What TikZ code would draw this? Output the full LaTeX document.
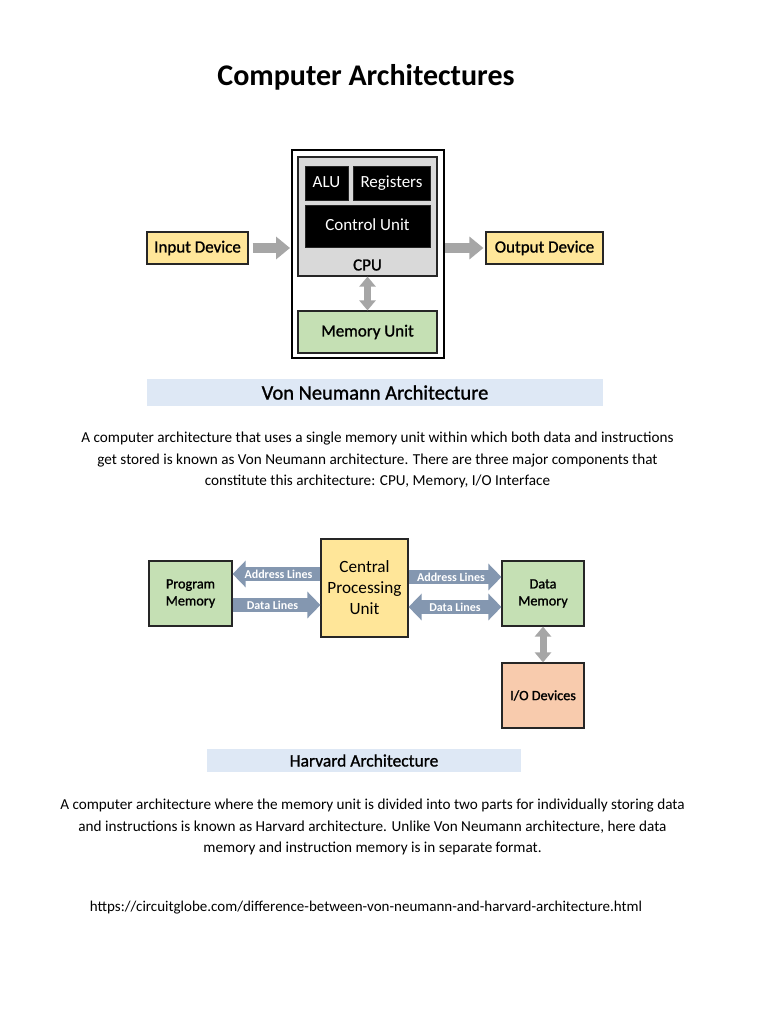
\documentclass[tikz,border=0pt]{standalone}
\usepackage{fontspec}
\setmainfont{Carlito}
\newfontface\semib[FakeBold=1.2]{Carlito}
\usetikzlibrary{arrows.meta}
\definecolor{ygold}{HTML}{FFE699}
\definecolor{mgreen}{HTML}{C5E0B4}
\definecolor{iopeach}{HTML}{F8CBAD}
\definecolor{cpugray}{HTML}{D9D9D9}
\definecolor{bandblue}{HTML}{DEE8F5}
\definecolor{arrgray}{HTML}{A6A6A6}
\definecolor{slate}{HTML}{8497B0}
\definecolor{edge}{HTML}{262626}
\tikzset{
  box/.style={draw=edge, line width=1.2pt, inner sep=0pt, align=center, text=black},
  vnfont/.style={font=\semib\fontsize{17}{19}\selectfont},
  hfont/.style={font=\semib\fontsize{14.2}{17}\selectfont},
  blk/.style={fill=black, draw=edge, line width=0.8pt, inner sep=0pt, text=white, font=\fontsize{17}{19}\selectfont, text height=11.5pt, text depth=3pt},
  band/.style={fill=bandblue, inner sep=0pt},
  garrow/.style={draw=arrgray, line width=10pt, -{Triangle[width=22pt,length=14pt]}},
  gdarrow/.style={draw=arrgray, line width=7pt, {Triangle[width=16pt,length=10pt]}-{Triangle[width=16pt,length=10pt]}},
  harrow/.style={draw=slate, line width=14pt, -{Triangle[width=26pt,length=13pt]}},
  hdarrow/.style={draw=slate, line width=14pt, {Triangle[width=26pt,length=13pt]}-{Triangle[width=26pt,length=13pt]}},
  hlab/.style={text=white, font=\bfseries\fontsize{12}{14}\selectfont, inner sep=0pt},
  para/.style={align=center, font=\fontsize{15.2}{21.8}\selectfont, inner sep=0pt}
}
\begin{document}
\begin{tikzpicture}[x=1pt,y=-1pt]
\useasboundingbox[fill=white] (0,0) rectangle (768,1024);
% title
\node[font=\bfseries\fontsize{30}{33}\selectfont] (title) at (366,77) {Computer Architectures};
% Von Neumann
\node[draw=black, line width=2pt, minimum width=152pt, minimum height=208pt] (outer) at (368,254) {};
\node[box, fill=cpugray, minimum width=139pt, minimum height=119pt] (cpubox) at (367.5,216.5) {};
\node[blk, minimum width=43pt, minimum height=34pt] (alu) at (326.5,183) {ALU};
\node[blk, minimum width=77pt, minimum height=34pt] (reg) at (391.5,183) {Registers};
\node[blk, minimum width=125pt, minimum height=42pt] (cu) at (367.5,226) {Control Unit};
\node[vnfont, inner sep=0pt] (cpulab) at (367.5,265) {CPU};
\node[box, fill=mgreen, minimum width=139pt, minimum height=42pt, vnfont] (mem) at (367.5,332) {Memory Unit};
\node[box, fill=ygold, minimum width=101pt, minimum height=32pt, vnfont] (in) at (197.5,248) {Input Device};
\node[box, fill=ygold, minimum width=117pt, minimum height=32pt, vnfont] (out) at (544.5,248) {Output Device};
\draw[garrow, shorten <=4pt, shorten >=1pt] (in.east) -- (outer.west |- in.east);
\draw[garrow, shorten >=2pt] (outer.east |- out.west) -- (out.west);
\draw[gdarrow] (cpubox.south) -- (mem.north);
\node[band, minimum width=456pt, minimum height=27pt, font=\semib\fontsize{20.5}{23}\selectfont] (vnband) at (375,392.5) {Von Neumann Architecture};
\node[para] (p1) at (377.5,460) {A computer architecture that uses a single memory unit within which both data and instructions\\get stored is known as Von Neumann architecture. There are three major components that\\constitute this architecture: CPU, Memory, I/O Interface};
% Harvard
\node[box, fill=mgreen, minimum width=83pt, minimum height=65pt, hfont] (pm) at (190.5,593.5) {Program\\Memory};
\node[box, fill=ygold, minimum width=87pt, minimum height=98pt, font=\fontsize{17.2}{21}\selectfont] (hcpu) at (364.5,588) {Central\\Processing\\Unit};
\node[box, fill=mgreen, minimum width=82pt, minimum height=65pt, hfont] (dm) at (543,593.5) {Data\\Memory};
\node[box, fill=iopeach, minimum width=82pt, minimum height=65pt, hfont] (io) at (543,695.5) {I/O Devices};
\draw[harrow] (hcpu.west |- 0,574) -- (pm.east |- 0,574) node[hlab, midway, xshift=2pt] {Address Lines};
\draw[harrow] (pm.east |- 0,605) -- (hcpu.west |- 0,605) node[hlab, midway, xshift=-4pt] {Data Lines};
\draw[harrow] (hcpu.east |- 0,577) -- (dm.west |- 0,577) node[hlab, midway, xshift=-4pt] {Address Lines};
\draw[hdarrow] (hcpu.east |- 0,607) -- (dm.west |- 0,607) node[hlab, midway] {Data Lines};
\draw[gdarrow] (dm.south) -- (io.north);
\node[band, minimum width=314pt, minimum height=23pt, font=\semib\fontsize{17.5}{20}\selectfont] (hband) at (364,760.5) {Harvard Architecture};
\node[para] (p2) at (372.5,827) {A computer architecture where the memory unit is divided into two parts for individually storing data\\and instructions is known as Harvard architecture. Unlike Von Neumann architecture, here data\\memory and instruction memory is in separate format.};
\node[font=\fontsize{15}{17}\selectfont, inner sep=0pt] (url) at (366,908) {https://circuitglobe.com/difference-between-von-neumann-and-harvard-architecture.html};
\end{tikzpicture}
\end{document}
